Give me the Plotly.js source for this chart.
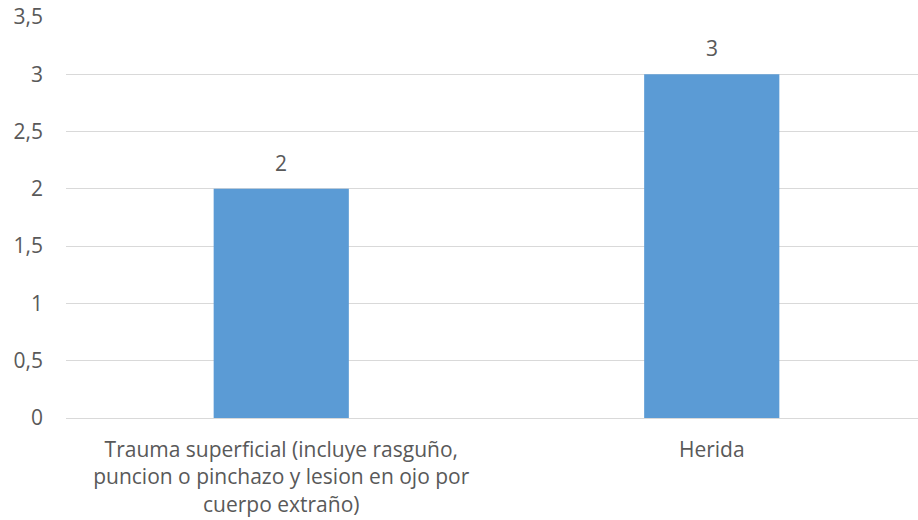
<!DOCTYPE html>
<html><head><meta charset="utf-8">
<script src="https://cdn.plot.ly/plotly-3.0.1.min.js"></script>
<style>body{margin:0;padding:0;overflow:hidden;background:#fff}</style>
</head><body>
<div id="chart"></div>
<script>
const categories = ["Trauma superficial (incluye rasguño,<br>puncion o pinchazo y lesion en ojo por<br>cuerpo extraño)", "Herida"];
const values = [2, 3];
const yTicks = [0, 0.5, 1, 1.5, 2, 2.5, 3, 3.5];

const font = {family: "'Open Sans', sans-serif", size: 21, color: "#595959"};
Plotly.newPlot("chart", [{
  type: "bar",
  x: categories,
  y: values,
  marker: {color: "#5B9BD5"},
  width: 0.314,
  hoverinfo: "none"
}], {
  width: 927, height: 520,
  margin: {l: 66, r: 0, t: 17, b: 102},
  paper_bgcolor: "#fff", plot_bgcolor: "#fff",
  separators: ",.",
  font: font,
  showlegend: false,
  annotations: categories.map((c, i) => ({
    x: c, y: values[i], xref: "x", yref: "y", text: String(values[i]),
    showarrow: false, yshift: 26, font: font
  })),
  xaxis: {showgrid: false, zeroline: false, showline: false, ticks: "", tickfont: font, tickangle: 0,
          ticklabelstandoff: 17, automargin: false},
  yaxis: {range: [0, 3.5], tickvals: yTicks, showgrid: true, gridcolor: "#d9d9d9", gridwidth: 1,
          zeroline: true, zerolinecolor: "#d9d9d9", zerolinewidth: 1, showline: false, ticks: "",
          tickfont: font, ticklabelstandoff: 22, automargin: false}
}, {displayModeBar: false, staticPlot: true});
</script>
</body></html>
